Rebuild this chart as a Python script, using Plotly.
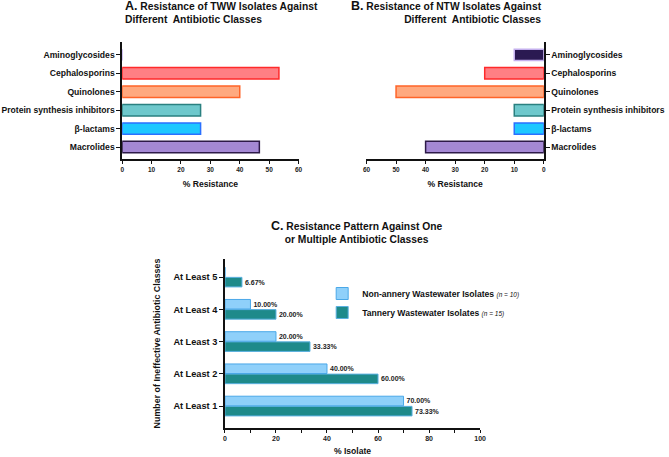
import plotly.graph_objects as go

# ---------------- data ----------------
classes = ["Aminoglycosides", "Cephalosporins", "Quinolones",
           "Protein synthesis inhibitors", "β-lactams", "Macrolides"]
tww_resistance = [0, 53.33, 40.0, 26.67, 26.67, 46.67]
ntw_resistance = [10.0, 20.0, 50.0, 10.0, 10.0, 40.0]

class_fill = ["#2b1a52", "#ff7f84", "#ffa97f", "#6ec8cc", "#1ec8ff", "#a488d4"]
class_line = ["#c4b0ee", "#ff2a2a", "#ff6428", "#2a8080", "#2a70ff", "#2d1a48"]

levels = ["At Least 1", "At Least 2", "At Least 3", "At Least 4", "At Least 5"]
tannery_pct = [73.33, 60.0, 33.33, 20.0, 6.67]
nontannery_pct = [70.0, 40.0, 20.0, 10.0, 0]
tannery_txt = ["73.33%", "60.00%", "33.33%", "20.00%", "6.67%"]
nontannery_txt = ["70.00%", "40.00%", "20.00%", "10.00%", ""]

xticks_ab = [0, 10, 20, 30, 40, 50, 60]
xticks_c = [0, 20, 40, 60, 80, 100]

W, H = 669, 457
FONT = "Liberation Sans, Arial, sans-serif"


def fx(px):
    return px / W


def fy(py):
    return 1 - py / H


fig = go.Figure()

# Panel A
fig.add_trace(go.Bar(
    x=tww_resistance, y=classes, orientation="h", xaxis="x", yaxis="y",
    width=0.62,
    marker=dict(color=class_fill, line=dict(color=class_line, width=1.5)),
    showlegend=False, hoverinfo="x+y"))

# Panel B
fig.add_trace(go.Bar(
    x=ntw_resistance, y=classes, orientation="h", xaxis="x2", yaxis="y2",
    width=0.62,
    marker=dict(color=class_fill, line=dict(color=class_line, width=1.5)),
    showlegend=False, hoverinfo="x+y"))

# Panel C
lab_font = dict(family=FONT, size=7, color="#222", weight="bold")
fig.add_trace(go.Bar(
    x=tannery_pct, y=levels, orientation="h", xaxis="x3", yaxis="y3",
    name="Tannery Wastewater Isolates <span style='font-size:6.5px;font-weight:normal'><i>(n = 15)</i></span>",
    marker=dict(color="#1e8a8a", line=dict(color="#5ab0e0", width=1)),
    text=tannery_txt, textposition="outside", textfont=lab_font,
    cliponaxis=False, legendrank=2))
fig.add_trace(go.Bar(
    x=nontannery_pct, y=levels, orientation="h", xaxis="x3", yaxis="y3",
    name="Non-annery Wastewater Isolates <span style='font-size:6.5px;font-weight:normal'><i>(n = 10)</i></span>",
    marker=dict(color="#8fd0fa", line=dict(color="#4aa8e8", width=1)),
    text=nontannery_txt, textposition="outside", textfont=lab_font,
    cliponaxis=False, legendrank=1))

tick_small = dict(family=FONT, size=6.5, color="#222", weight="bold")
cat_font = dict(family=FONT, size=8.6, color="#111", weight="bold")
title_font = dict(family=FONT, size=8.6, color="#111", weight="bold")

common_x = dict(showline=True, linecolor="#111", linewidth=1.6, ticks="outside",
                ticklen=3, tickwidth=1.4, tickcolor="#111", showgrid=False,
                zeroline=False, tickfont=tick_small, fixedrange=True)
common_y = dict(type="category", showline=True, linecolor="#111", linewidth=1.6,
                ticks="outside", ticklen=4, tickwidth=1.4, tickcolor="#111",
                showgrid=False, zeroline=False, tickfont=cat_font, fixedrange=True)

fig.update_layout(
    width=W, height=H, autosize=False,
    margin=dict(l=0, r=0, t=0, b=0),
    paper_bgcolor="white", plot_bgcolor="white",
    font=dict(family=FONT, color="#111"),
    barmode="group", bargap=0.37, bargroupgap=0.06,
    xaxis=dict(domain=[fx(120), fx(299)], range=[0, 60], tickvals=xticks_ab,
               anchor="y", title=dict(text="% Resistance", font=title_font, standoff=9),
               **common_x),
    yaxis=dict(domain=[fy(159), fy(42)], range=[5.65, -0.7], anchor="x",
               categoryorder="array", categoryarray=classes, **common_y),
    xaxis2=dict(domain=[fx(368), fx(548)], range=[60, 0], tickvals=xticks_ab,
                anchor="y2", title=dict(text="% Resistance", font=title_font, standoff=9),
                **common_x),
    yaxis2=dict(domain=[fy(159), fy(42)], range=[5.65, -0.7], anchor="x2",
                side="right", categoryorder="array", categoryarray=classes, **common_y),
    xaxis3=dict(domain=[fx(224.3), fx(483.3)], range=[0, 100], tickvals=xticks_c,
                anchor="y3", minor=dict(dtick=10, ticks="outside", ticklen=3,
                                        tickwidth=1.2, tickcolor="#111"),
                title=dict(text="% Isolate", font=title_font, standoff=7),
                **{**common_x, "tickfont": dict(family=FONT, size=7, color="#222", weight="bold")}),
    yaxis3=dict(domain=[fy(428), fy(259)], range=[-0.68, 4.56], anchor="x3",
                categoryorder="array", categoryarray=levels,
                title=dict(text="Number of Ineffective Antibiotic Classes",
                           font=dict(family=FONT, size=8.9, color="#111", weight="bold"),
                           standoff=11),
                **{**common_y, "tickfont": dict(family=FONT, size=9.2, color="#111", weight="bold")}),
    legend=dict(x=fx(323), y=fy(279), xanchor="left", yanchor="top",
                font=dict(family=FONT, size=8.6, color="#111", weight="bold"),
                bgcolor="rgba(0,0,0,0)", itemwidth=30, tracegroupgap=0),
)

tfont = dict(family=FONT, size=10.3, color="#111", weight="bold")
fig.add_annotation(
    x=fx(121), y=fy(12), xref="paper", yref="paper", xanchor="left", yanchor="middle",
    align="left", showarrow=False, font=tfont,
    text="<span style='font-size:12.5px'>A.</span> Resistance of TWW Isolates Against<br>Different  Antibiotic Classes")
fig.add_annotation(
    x=fx(548), y=fy(12), xref="paper", yref="paper", xanchor="right", yanchor="middle",
    align="right", showarrow=False, font=tfont,
    text="<span style='font-size:12.5px'>B.</span> Resistance of NTW Isolates Against<br>Different  Antibiotic Classes")
fig.add_annotation(
    x=fx(358), y=fy(231.5), xref="paper", yref="paper", xanchor="center", yanchor="middle",
    align="center", showarrow=False, font=tfont,
    text="<span style='font-size:12.5px'>C.</span> Resistance Pattern Against One<br>or Multiple Antibiotic Classes")

fig.write_html("out.html", config={"displayModeBar": False},
               post_script="document.body.style.margin='0';document.body.style.padding='0';document.body.style.overflow='hidden';")
